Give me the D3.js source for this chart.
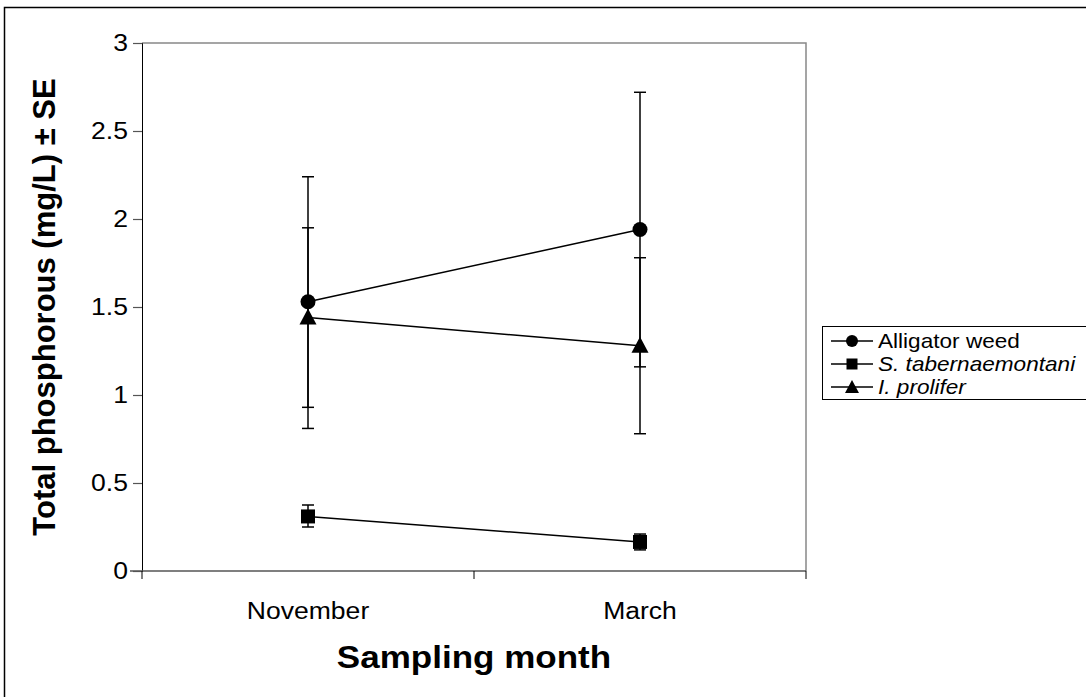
<!DOCTYPE html>
<html><head><meta charset="utf-8">
<script src="https://cdn.jsdelivr.net/npm/d3@7"></script>
<style>body{margin:0;background:#fff;}svg{display:block;font-family:"Liberation Sans",Arial,sans-serif;}</style>
</head><body>
<script>
const categories = ["November", "March"];
const seriesNames = ["Alligator weed", "S. tabernaemontani", "I. prolifer"];
const seriesItalic = [false, true, true];
const seriesShapes = ["circle", "square", "triangle"];
const alligatorMean = [1.53, 1.94];
const alligatorUpper = [2.24, 2.72];
const alligatorLower = [0.81, 1.16];
const tabernMean = [0.31, 0.165];
const tabernUpper = [0.375, 0.21];
const tabernLower = [0.25, 0.12];
const proliferMean = [1.44, 1.28];
const proliferUpper = [1.95, 1.78];
const proliferLower = [0.93, 0.78];
const yTicks = [0, 0.5, 1, 1.5, 2, 2.5, 3];

const series = [
  {name: seriesNames[0], italic: seriesItalic[0], shape: seriesShapes[0], mean: alligatorMean, up: alligatorUpper, lo: alligatorLower},
  {name: seriesNames[1], italic: seriesItalic[1], shape: seriesShapes[1], mean: tabernMean, up: tabernUpper, lo: tabernLower},
  {name: seriesNames[2], italic: seriesItalic[2], shape: seriesShapes[2], mean: proliferMean, up: proliferUpper, lo: proliferLower}
];

const SX = 1.13; // horizontal stretch of text seen in the reference
const W = 1086, H = 697;
const svg = d3.select("body").append("svg").attr("width", W).attr("height", H);
svg.append("rect").attr("x", 4.5).attr("y", 7.5).attr("width", 1100).attr("height", 700)
  .attr("fill", "#fff").attr("stroke", "#000").attr("stroke-width", 1.5);

const L = 142, R = 806, T = 43, B = 571;
const x = d3.scaleBand().domain(categories).range([L, R]);
const y = d3.scaleLinear().domain([0, 3]).range([B, T]);

// plot border (gray)
svg.append("path").attr("d", `M${L},${T}H${R}V${B}`).attr("fill", "none").attr("stroke", "#888").attr("stroke-width", 1.5);

// y axis
const ya = svg.append("g").attr("transform", `translate(${L},0)`)
  .call(d3.axisLeft(y).tickValues(yTicks).tickSize(9).tickPadding(5).tickFormat(d => String(d)));
ya.select(".domain").attr("stroke", "#000").attr("stroke-width", 1);
ya.selectAll(".tick line").attr("stroke", "#555").attr("stroke-width", 1.2);
ya.selectAll("text").attr("font-size", 23.5).attr("fill", "#000").attr("font-family", "Liberation Sans, Arial, sans-serif")
  .attr("x", -14 / SX).attr("transform", `scale(${SX},1)`);

// x axis
const xa = svg.append("g").attr("transform", `translate(0,${B})`)
  .call(d3.axisBottom(x).tickSize(0).tickPadding(31));
xa.select(".domain").remove();
xa.selectAll("text").attr("font-size", 23.5).attr("fill", "#000").attr("font-family", "Liberation Sans, Arial, sans-serif")
  .attr("transform", `scale(${SX},1)`);
svg.append("line").attr("x1", L - 12).attr("x2", R).attr("y1", B).attr("y2", B).attr("stroke", "#555").attr("stroke-width", 1.5);
const xEdges = [L, L + x.step(), R];
svg.selectAll(".xt").data(xEdges).enter().append("line")
  .attr("x1", d => d).attr("x2", d => d).attr("y1", B).attr("y2", B + 8).attr("stroke", "#000");

const cx = c => x(c) + x.bandwidth() / 2;

// error bars
series.forEach(s => {
  categories.forEach((c, i) => {
    const g = svg.append("g").attr("stroke", "#000").attr("stroke-width", 1.5);
    g.append("line").attr("x1", cx(c)).attr("x2", cx(c)).attr("y1", y(s.up[i])).attr("y2", y(s.lo[i]));
    [s.up[i], s.lo[i]].forEach(v => g.append("line").attr("x1", cx(c) - 6).attr("x2", cx(c) + 6).attr("y1", y(v)).attr("y2", y(v)));
  });
});

// lines
const line = d3.line().x((d, i) => cx(categories[i])).y(d => y(d));
series.forEach(s => {
  svg.append("path").attr("d", line(s.mean)).attr("fill", "none").attr("stroke", "#000").attr("stroke-width", 1.5);
});

function marker(g, shape, px, py) {
  if (shape === "circle") g.append("circle").attr("cx", px).attr("cy", py).attr("r", 7.5).attr("fill", "#000");
  else if (shape === "square") g.append("rect").attr("x", px - 7).attr("y", py - 7).attr("width", 14).attr("height", 14).attr("fill", "#000");
  else g.append("path").attr("d", `M${px},${py - 9}L${px + 8.5},${py + 7}L${px - 8.5},${py + 7}Z`).attr("fill", "#000");
}
series.forEach(s => {
  categories.forEach((c, i) => marker(svg, s.shape, cx(c), y(s.mean[i])));
});

// legend
const lg = svg.append("g");
const lx = 822, ly = 326, lh = 23;
lg.append("rect").attr("x", lx + 0.5).attr("y", ly + 0.5).attr("width", 270).attr("height", lh * 3 + 4)
  .attr("fill", "#fff").attr("stroke", "#000").attr("stroke-width", 1);
series.forEach((s, i) => {
  const yy = ly + 15 + i * lh;
  lg.append("line").attr("x1", lx + 9).attr("x2", lx + 51).attr("y1", yy).attr("y2", yy).attr("stroke", "#000").attr("stroke-width", 1.5);
  const mg = lg.append("g");
  if (s.shape === "circle") mg.append("circle").attr("cx", lx + 30).attr("cy", yy).attr("r", 6).attr("fill", "#000");
  else if (s.shape === "square") mg.append("rect").attr("x", lx + 24.5).attr("y", yy - 5.5).attr("width", 11).attr("height", 11).attr("fill", "#000");
  else mg.append("path").attr("d", `M${lx + 30},${yy - 7}L${lx + 37},${yy + 6}L${lx + 23},${yy + 6}Z`).attr("fill", "#000");
  lg.append("text").attr("transform", `translate(${lx + 56},${yy}) scale(${SX},1)`).attr("dy", "0.35em").attr("font-size", 20)
    .attr("font-style", s.italic ? "italic" : "normal").text(s.name);
});

// titles
svg.append("text").attr("transform", `translate(55,${(T + B) / 2}) rotate(-90)`).attr("text-anchor", "middle")
  .attr("font-size", 31).attr("font-weight", "bold").text("Total phosphorous (mg/L) ± SE");
svg.append("text").attr("transform", `translate(${(L + R) / 2},668) scale(${SX},1)`).attr("text-anchor", "middle")
  .attr("font-size", 31).attr("font-weight", "bold").text("Sampling month");
</script>
</body></html>
